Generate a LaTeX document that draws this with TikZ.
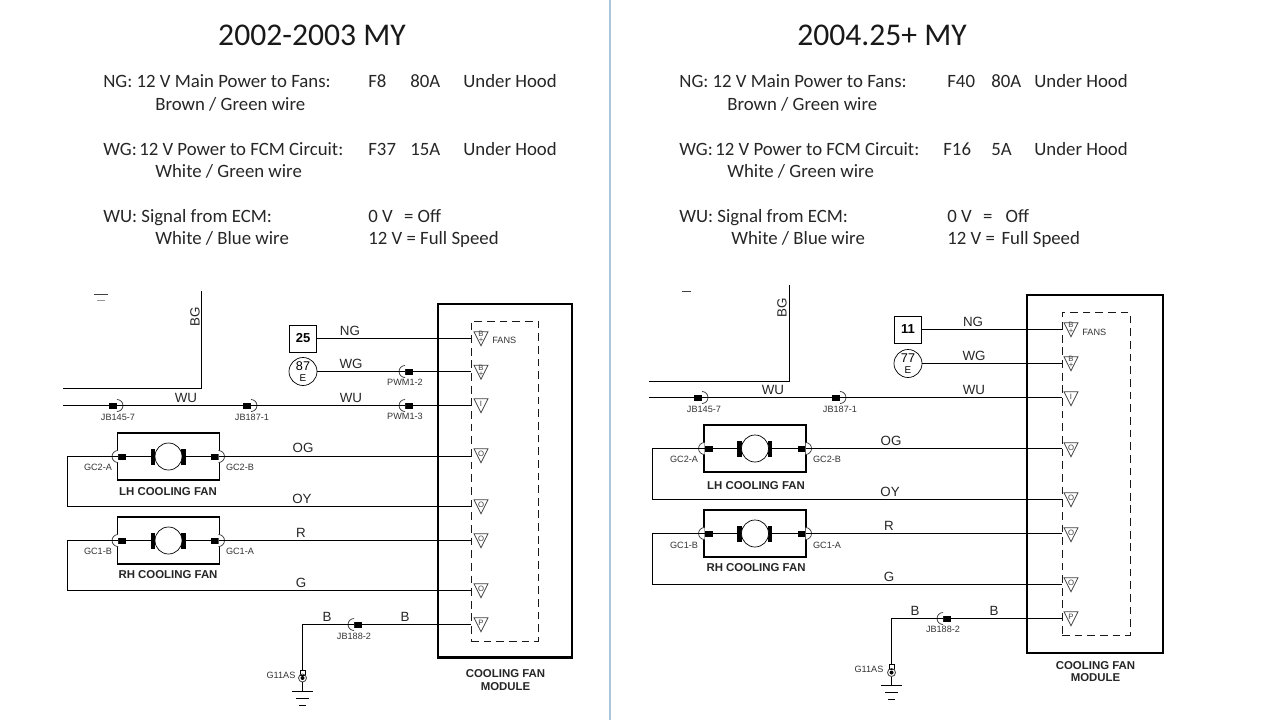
\documentclass[tikz,border=0pt]{standalone}
\usepackage{fontspec}
\setmainfont{Carlito}
\newfontfamily\wirefont{Liberation Sans}
\usetikzlibrary{shapes.geometric, positioning}
\definecolor{sepblue}{RGB}{172,196,216}
\tikzset{
    titletext/.style={font=\fontsize{18}{20}\selectfont,text=black!90,inner sep=0pt},
    bodytext/.style={font=\fontsize{10.7}{12}\selectfont,text=black!85,anchor=base west,yshift=-3.9pt,inner sep=0pt},
    wirelabel/.style={font=\wirefont\fontsize{7.6}{8}\selectfont,text=black!85,inner sep=0pt},
    pinlabel/.style={font=\wirefont\fontsize{5.2}{6}\selectfont,text=black!80,inner sep=0pt},
    fanlabel/.style={font=\wirefont\bfseries\fontsize{6.5}{7}\selectfont,text=black!85,inner sep=0pt,align=center},
    wire/.style={draw=black,line width=0.75pt},
    plugblock/.style={rectangle,fill=black,minimum width=0.16cm,minimum height=0.12cm,inner sep=0pt,outer sep=0pt},
    plugarc/.style={draw=black!80,fill=white,line width=0.4pt},
    fuseblock/.style={rectangle,draw=black,line width=0.5pt,minimum width=0.54cm,minimum height=0.54cm,inner sep=0pt,outer sep=0pt,font=\wirefont\bfseries\fontsize{7.4}{8}\selectfont},
    feedcircle/.style={circle,draw=black,line width=0.4pt,minimum size=0.56cm,inner sep=0pt,outer sep=0pt,align=center,font=\wirefont\fontsize{7.2}{5.6}\selectfont},
    modulebox/.style={rectangle,draw=black,line width=1.4pt,inner sep=0pt,outer sep=0pt},
    innerbox/.style={rectangle,draw=black!90,dashed,dash pattern=on 4.4pt off 2.8pt,line width=0.45pt,inner sep=0pt,outer sep=0pt},
    fanbox/.style={rectangle,draw=black,line width=1.1pt,minimum width=2.04cm,minimum height=0.94cm,inner sep=0pt,outer sep=0pt},
    motor/.style={circle,draw=black,fill=white,line width=0.4pt,minimum size=0.54cm,inner sep=0pt,outer sep=0pt},
    motorbar/.style={rectangle,fill=black,minimum width=0.09cm,minimum height=0.32cm,inner sep=0pt,outer sep=0pt},
    pinmark/.style={isosceles triangle,isosceles triangle apex angle=53,shape border rotate=270,isosceles triangle stretches,draw=black!75,line width=0.45pt,minimum width=0.28cm,minimum height=0.28cm,inner sep=0pt,outer sep=0pt},
    pintext/.style={font=\wirefont\fontsize{4.4}{3.4}\selectfont,align=center,text=black!75,inner sep=0pt,yshift=-0.6pt},
    lugbox/.style={rectangle,draw=black,line width=0.4pt,minimum size=0.1cm,inner sep=0pt,outer sep=0pt},
    lugring/.style={circle,draw=black!70,line width=0.5pt,minimum size=0.16cm,inner sep=0pt,outer sep=0pt},
    lugdot/.style={circle,fill=black,minimum size=0.08cm,inner sep=0pt,outer sep=0pt},
    strayline/.style={draw=black!75,line width=0.4pt},
}
\begin{document}
\begin{tikzpicture}[x=0.02cm,y=-0.02cm]
    \useasboundingbox (0,0) rectangle (1280,720);
    \coordinate (sepTop) at (610,0);
    \coordinate (sepBot) at (610,720);
    \draw[draw=sepblue,line width=0.8pt] (sepTop) -- (sepBot);

    \node[titletext] (titleA) at (312,35) {2002-2003 MY};
    \node[bodytext] (ngA) at (103,81) {NG: 12 V Main Power to Fans:};
    \node[bodytext] (ngFuseA) at (368,81) {F8};
    \node[bodytext] (ngAmpA) at (410,81) {80A};
    \node[bodytext] (ngWhereA) at (463,81) {Under Hood};
    \node[bodytext] (ngWireA) at (155,104) {Brown / Green wire};
    \node[bodytext] (wgA) at (103,149) {WG:\kern-1pt{} 12 V Power to FCM Circuit:};
    \node[bodytext] (wgFuseA) at (368,149) {F37};
    \node[bodytext] (wgAmpA) at (410,149) {15A};
    \node[bodytext] (wgWhereA) at (463,149) {Under Hood};
    \node[bodytext] (wgWireA) at (155,171) {White / Green wire};
    \node[bodytext] (wuA) at (103,216) {WU: Signal from ECM:};
    \node[bodytext] (wuOffA) at (368,216) {0 V\hspace{0.6em}= Off};
    \node[bodytext] (wuWireA) at (155,238) {White / Blue wire};
    \node[bodytext] (wuFullA) at (368,238) {12 V = Full Speed};

    \node[titletext] (titleB) at (882,35) {2004.25+ MY};
    \node[bodytext] (ngB) at (679,81) {NG: 12 V Main Power to Fans:};
    \node[bodytext] (ngFuseB) at (947,81) {F40};
    \node[bodytext] (ngAmpB) at (991,81) {80A};
    \node[bodytext] (ngWhereB) at (1034,81) {Under Hood};
    \node[bodytext] (ngWireB) at (727,104) {Brown / Green wire};
    \node[bodytext] (wgB) at (679,149) {WG:\kern-1pt{} 12 V Power to FCM Circuit:};
    \node[bodytext] (wgFuseB) at (943,149) {F16};
    \node[bodytext] (wgAmpB) at (991,149) {5A};
    \node[bodytext] (wgWhereB) at (1034,149) {Under Hood};
    \node[bodytext] (wgWireB) at (727,171) {White / Green wire};
    \node[bodytext] (wuB) at (679,216) {WU: Signal from ECM:};
    \node[bodytext] (wuOffB) at (947,216) {0 V\hspace{0.6em}=\hspace{0.7em}Off};
    \node[bodytext] (wuWireB) at (731,238) {White / Blue wire};
    \node[bodytext] (wuFullB) at (947,238) {12 V =\hspace{0.35em}Full Speed};

    \node[modulebox,minimum width=2.68cm,minimum height=7.07cm] (moduleA) at (505,480.75) {};
    \node[innerbox,minimum width=1.34cm,minimum height=6.4cm] (dashA) at (504.5,481) {};
    \node[fanlabel] (moduleTxtA) at (505.5,680) {COOLING FAN\\MODULE};
    \node[modulebox,minimum width=2.72cm,minimum height=7.16cm] (moduleB) at (1095,474) {};
    \node[innerbox,minimum width=1.36cm,minimum height=6.45cm] (dashB) at (1096,473.75) {};
    \node[fanlabel] (moduleTxtB) at (1095.5,671.5) {COOLING FAN\\MODULE};

    \node[pinmark,label={[pintext]center:B\\+}] (pinA1) at (481,336) {};
    \node[pinmark,label={[pintext]center:B\\+}] (pinA2) at (481,369.5) {};
    \node[pinmark,label={[pintext]center:I}] (pinA3) at (481,403) {};
    \node[pinmark,label={[pintext]center:O}] (pinA4) at (481,453) {};
    \node[pinmark,label={[pintext]center:O}] (pinA5) at (481,504) {};
    \node[pinmark,label={[pintext]center:O}] (pinA6) at (481,538) {};
    \node[pinmark,label={[pintext]center:O}] (pinA7) at (481,588) {};
    \node[pinmark,label={[pintext]center:P}] (pinA8) at (481,622) {};
    \node[pinlabel,anchor=west] (fansA) at (492,340) {FANS};
    \node[pinmark,label={[pintext]center:B\\+}] (pinB1) at (1071,327) {};
    \node[pinmark,label={[pintext]center:B\\+}] (pinB2) at (1071,361) {};
    \node[pinmark,label={[pintext]center:I}] (pinB3) at (1071,396) {};
    \node[pinmark,label={[pintext]center:O}] (pinB4) at (1071,447) {};
    \node[pinmark,label={[pintext]center:O}] (pinB5) at (1071,497) {};
    \node[pinmark,label={[pintext]center:O}] (pinB6) at (1071,532) {};
    \node[pinmark,label={[pintext]center:O}] (pinB7) at (1071,582) {};
    \node[pinmark,label={[pintext]center:P}] (pinB8) at (1071,616) {};
    \node[pinlabel,anchor=west] (fansB) at (1082,332) {FANS};

    \node[fuseblock] (fuseA) at (303,338.5) {25};
    \node[feedcircle] (feedA) at (303,371.5) {87\\[0.5pt]{\fontsize{5.6}{5.6}\selectfont E}};
    \node[fuseblock] (fuseB) at (908,329.5) {11};
    \node[feedcircle] (feedB) at (908,363.5) {77\\[0.5pt]{\fontsize{5.6}{5.6}\selectfont E}};

    \node[plugblock] (jb145A) at (113,405.5) {};
    \node[plugblock] (jb187A) at (247,405.5) {};
    \node[plugblock] (pwm2A) at (409,371.5) {};
    \node[plugblock] (pwm3A) at (409,405.5) {};
    \node[plugblock] (jb188A) at (358,624.5) {};
    \node[plugblock] (jb145B) at (698,397.5) {};
    \node[plugblock] (jb187B) at (836,397.5) {};
    \node[plugblock] (jb188B) at (947,618.5) {};
    \draw[plugarc] (jb145A.east) ++(0,-6) arc (-90:90:6);
    \draw[plugarc] (jb187A.east) ++(0,-6) arc (-90:90:6);
    \draw[plugarc] (pwm2A.west) ++(0,-6) arc (270:90:6);
    \draw[plugarc] (pwm3A.west) ++(0,-6) arc (270:90:6);
    \draw[plugarc] (jb188A.west) ++(0,-6) arc (270:90:6);
    \draw[plugarc] (jb145B.east) ++(0,-6) arc (-90:90:6);
    \draw[plugarc] (jb187B.east) ++(0,-6) arc (-90:90:6);
    \draw[plugarc] (jb188B.west) ++(0,-6) arc (270:90:6);
    \node[pinlabel] (jb145TxtA) at (118,417) {JB145-7};
    \node[pinlabel] (jb187TxtA) at (252,417) {JB187-1};
    \node[pinlabel] (pwm2TxtA) at (405,382.5) {PWM1-2};
    \node[pinlabel] (pwm3TxtA) at (405,416.5) {PWM1-3};
    \node[pinlabel] (jb188TxtA) at (354,636) {JB188-2};
    \node[pinlabel] (jb145TxtB) at (704,409) {JB145-7};
    \node[pinlabel] (jb187TxtB) at (840,409) {JB187-1};
    \node[pinlabel] (jb188TxtB) at (943,629.5) {JB188-2};

    \node[fanbox] (lhA) at (168.5,456.5) {};
    \node[fanbox] (rhA) at (168.5,540.5) {};
    \node[fanbox] (lhB) at (755,448.5) {};
    \node[fanbox] (rhB) at (755,533.5) {};
    \node[plugblock] (lhLeftA) at (122,456.5) {};
    \node[plugblock] (lhRightA) at (214.5,456.5) {};
    \node[plugblock] (rhLeftA) at (122,540.5) {};
    \node[plugblock] (rhRightA) at (214.5,540.5) {};
    \node[plugblock] (lhLeftB) at (708.5,448.5) {};
    \node[plugblock] (lhRightB) at (801.5,448.5) {};
    \node[plugblock] (rhLeftB) at (708.5,533.5) {};
    \node[plugblock] (rhRightB) at (801.5,533.5) {};
    \draw[plugarc] (lhLeftA.west) ++(0,-6) arc (270:90:6);
    \draw[plugarc] (lhRightA.east) ++(0,-6) arc (-90:90:6);
    \draw[plugarc] (rhLeftA.west) ++(0,-6) arc (270:90:6);
    \draw[plugarc] (rhRightA.east) ++(0,-6) arc (-90:90:6);
    \draw[plugarc] (lhLeftB.west) ++(0,-6) arc (270:90:6);
    \draw[plugarc] (lhRightB.east) ++(0,-6) arc (-90:90:6);
    \draw[plugarc] (rhLeftB.west) ++(0,-6) arc (270:90:6);
    \draw[plugarc] (rhRightB.east) ++(0,-6) arc (-90:90:6);
    \node[motorbar] (lhBarLA) at (153,457) {};
    \node[motorbar] (lhBarRA) at (183.5,457) {};
    \node[motor] (lhMotorA) at (168.5,456.5) {};
    \node[motorbar] (rhBarLA) at (153,541) {};
    \node[motorbar] (rhBarRA) at (183.5,541) {};
    \node[motor] (rhMotorA) at (168.5,540.5) {};
    \node[motorbar] (lhBarLB) at (739.5,449) {};
    \node[motorbar] (lhBarRB) at (770,449) {};
    \node[motor] (lhMotorB) at (755,448.5) {};
    \node[motorbar] (rhBarLB) at (739.5,534) {};
    \node[motorbar] (rhBarRB) at (770,534) {};
    \node[motor] (rhMotorB) at (755,533.5) {};
    \node[fanlabel] (lhTxtA) at (168,492) {LH COOLING FAN};
    \node[fanlabel] (rhTxtA) at (168,574.5) {RH COOLING FAN};
    \node[fanlabel] (lhTxtB) at (756,485.5) {LH COOLING FAN};
    \node[fanlabel] (rhTxtB) at (756,568) {RH COOLING FAN};
    \node[pinlabel] (gc2aA) at (98,467) {GC2-A};
    \node[pinlabel] (gc2bA) at (240,467) {GC2-B};
    \node[pinlabel] (gc1bA) at (98,551) {GC1-B};
    \node[pinlabel] (gc1aA) at (240,551) {GC1-A};
    \node[pinlabel] (gc2aB) at (684,459) {GC2-A};
    \node[pinlabel] (gc2bB) at (827,459) {GC2-B};
    \node[pinlabel] (gc1bB) at (684,545) {GC1-B};
    \node[pinlabel] (gc1aB) at (827,545) {GC1-A};

    \node[lugbox] (lugA) at (302.5,672.5) {};
    \node[lugring] (ringA) at (302.5,678) {};
    \node[lugdot] (dotA) at (302.5,678) {};
    \node[pinlabel] (g11A) at (281,675.5) {G11AS};
    \node[lugbox] (lugB) at (891.5,667) {};
    \node[lugring] (ringB) at (891.5,672.5) {};
    \node[lugdot] (dotB) at (891.5,672.5) {};
    \node[pinlabel] (g11B) at (869,669.5) {G11AS};

    \coordinate (bgTopA) at (201.5,291);
    \coordinate (bgEndA) at (63,388.5);
    \coordinate (wuEndA) at (63,405.5);
    \coordinate (oyTurnA) at (67.5,506.5);
    \coordinate (gTurnA) at (67.5,590.5);
    \coordinate (gndA) at (302.5,691.5);
    \coordinate (bgTopB) at (789.5,285);
    \coordinate (bgEndB) at (649,381.5);
    \coordinate (wuEndB) at (649,397.5);
    \coordinate (oyTurnB) at (652.5,499.5);
    \coordinate (gTurnB) at (652.5,584.5);
    \coordinate (gndB) at (891.5,685.5);

    \draw[wire] (bgTopA) |- (bgEndA);
    \draw[wire] (fuseA) -- (fuseA -| dashA.west);
    \draw[wire] (feedA) -- (pwm2A) -- (pwm2A -| dashA.west);
    \draw[wire] (wuEndA) -- (jb145A) -- (jb187A) -- (pwm3A) -- (pwm3A -| dashA.west);
    \draw[wire] (lhRightA) -- (lhRightA -| dashA.west);
    \draw[wire] (lhLeftA) -| (oyTurnA) -- (oyTurnA -| dashA.west);
    \draw[wire] (rhRightA) -- (rhRightA -| dashA.west);
    \draw[wire] (rhLeftA) -| (gTurnA) -- (gTurnA -| dashA.west);
    \draw[wire] (lhLeftA) -- (lhMotorA) -- (lhRightA);
    \draw[wire] (rhLeftA) -- (rhMotorA) -- (rhRightA);
    \draw[wire] (jb188A) -- (jb188A -| dashA.west);
    \draw[wire] (jb188A) -| (lugA);
    \draw[wire] (ringA) -- (gndA);
    \draw[wire] (gndA) ++(-10.5,0) -- ++(21,0);
    \draw[wire] (gndA) ++(-6.5,7) -- ++(13,0);
    \draw[wire] (gndA) ++(-3.5,14) -- ++(7,0);

    \draw[wire] (bgTopB) |- (bgEndB);
    \draw[wire] (fuseB) -- (fuseB -| dashB.west);
    \draw[wire] (feedB) -- (feedB -| dashB.west);
    \draw[wire] (wuEndB) -- (jb145B) -- (jb187B) -- (jb187B -| dashB.west);
    \draw[wire] (lhRightB) -- (lhRightB -| dashB.west);
    \draw[wire] (lhLeftB) -| (oyTurnB) -- (oyTurnB -| dashB.west);
    \draw[wire] (rhRightB) -- (rhRightB -| dashB.west);
    \draw[wire] (rhLeftB) -| (gTurnB) -- (gTurnB -| dashB.west);
    \draw[wire] (lhLeftB) -- (lhMotorB) -- (lhRightB);
    \draw[wire] (rhLeftB) -- (rhMotorB) -- (rhRightB);
    \draw[wire] (jb188B) -- (jb188B -| dashB.west);
    \draw[wire] (jb188B) -| (lugB);
    \draw[wire] (ringB) -- (gndB);
    \draw[wire] (gndB) ++(-10.5,0) -- ++(21,0);
    \draw[wire] (gndB) ++(-6.5,7) -- ++(13,0);
    \draw[wire] (gndB) ++(-3.5,14) -- ++(7,0);

    \node[wirelabel,rotate=90] (bgTxtA) at (195,317) {BG};
    \node[wirelabel] (ngTxtA) at (350,331) {NG};
    \node[wirelabel] (wgTxtA) at (351,364) {WG};
    \node[wirelabel] (wuTxtA) at (186,398) {WU};
    \node[wirelabel] (wuTxt2A) at (351,398) {WU};
    \node[wirelabel] (ogTxtA) at (303,448) {OG};
    \node[wirelabel] (oyTxtA) at (302,499) {OY};
    \node[wirelabel] (rTxtA) at (301,533) {R};
    \node[wirelabel] (gTxtA) at (301,583) {G};
    \node[wirelabel] (bTxtA) at (327,617) {B};
    \node[wirelabel] (bTxt2A) at (405,617) {B};
    \node[wirelabel,rotate=90] (bgTxtB) at (782,308) {BG};
    \node[wirelabel] (ngTxtB) at (973,322) {NG};
    \node[wirelabel] (wgTxtB) at (974,356) {WG};
    \node[wirelabel] (wuTxtB) at (773,390) {WU};
    \node[wirelabel] (wuTxt2B) at (974,390) {WU};
    \node[wirelabel] (ogTxtB) at (891,441) {OG};
    \node[wirelabel] (oyTxtB) at (890,492) {OY};
    \node[wirelabel] (rTxtB) at (889,526) {R};
    \node[wirelabel] (gTxtB) at (889,577) {G};
    \node[wirelabel] (bTxtB) at (915,611) {B};
    \node[wirelabel] (bTxt2B) at (994,611) {B};

    \draw[strayline] (93.5,294.5) -- (107.5,294.5);
    \draw[strayline,draw=black!40] (97,300.5) -- (105,300.5);
    \draw[strayline] (682,291) -- (691,291);
\end{tikzpicture}
\end{document}
